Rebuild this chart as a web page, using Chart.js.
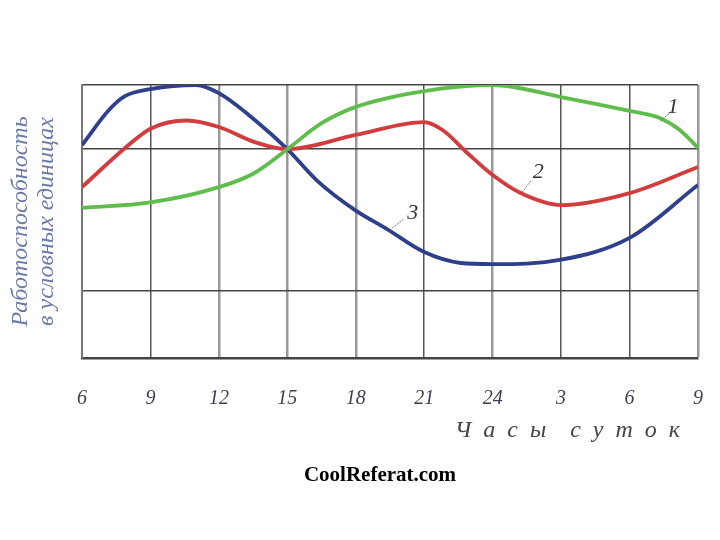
<!DOCTYPE html>
<html>
<head>
<meta charset="utf-8">
<script src="https://cdn.jsdelivr.net/npm/chart.js@4"></script>
<style>
    body { margin: 0; background: #fff; }
    #wrap { position: relative; width: 720px; height: 540px; }
    #footer {
        position: absolute; left: 0; width: 760px; top: 462px;
        text-align: center; font: bold 21px "Liberation Serif", serif; color: #000;
    }
</style>
</head>
<body>
<div id="wrap">
    <canvas id="workChart" width="720" height="540"></canvas>
    <div id="footer">CoolReferat.com</div>
</div>
<script>
// часы суток (6 утра -> 9 утра следующего дня), значения в условных единицах
const hourTicks = [6, 9, 12, 15, 18, 21, 24, 27, 30, 33];
const hourLabels = ['6', '9', '12', '15', '18', '21', '24', '3', '6', '9'];
const yGridValues = [0, 24.5, 76.5, 100];

const curve1Hours = [6, 9, 12, 13.5, 15, 16.5, 18, 21, 24, 27, 30, 31.3, 32.2, 33];
const curve1Values = [55, 57, 62.6, 67.5, 76.5, 86, 92, 97.8, 100, 95.6, 90.5, 88, 83.5, 77];

const curve2Hours = [6, 7.9, 9, 10.6, 12, 13.6, 15, 18, 21, 21.8, 22.9, 24, 25.2, 27, 30, 33];
const curve2Values = [62.6, 77, 84, 87, 84.6, 79, 76.5, 81.7, 86.4, 83.5, 75, 67, 60.5, 56, 60.4, 70];

const curve3Hours = [6, 7.2, 7.9, 9, 11, 12, 13.6, 15, 16.3, 18, 19.3, 21, 22.6, 24, 27, 30, 33];
const curve3Values = [78, 91, 96, 98.5, 100, 97, 87, 76.5, 65, 54, 47.6, 38.8, 34.8, 34.4, 36, 44, 63.4];

// номера кривых: [текст, x, y, выноска от x, y]
const curveMarks = [
    ['1', 31.9, 92, 31.35, 86.8, 31.8, 90.1],
    ['2', 26.0, 68, 25.3, 60.8, 25.7, 65.2],
    ['3', 20.5, 53, 19.6, 47.6, 20.1, 50.9]
];

const xGridColors = ['#777', '#555', '#999', '#999', '#999', '#555', '#999', '#555', '#555', '#999'];

let workChart;

document.addEventListener('DOMContentLoaded', () => {
    renderWorkChart();
});

function toPoints(hours, values) {
    return hours.map((h, i) => ({ x: h, y: values[i] }));
}

const curveMarksPlugin = {
    id: 'curveMarks',
    afterDatasetsDraw(chart) {
        const { ctx, scales } = chart;
        ctx.save();
        curveMarks.forEach(m => {
            ctx.strokeStyle = '#777';
            ctx.lineWidth = 1;
            ctx.setLineDash([2, 1]);
            ctx.beginPath();
            ctx.moveTo(scales.x.getPixelForValue(m[3]), scales.y.getPixelForValue(m[4]));
            ctx.lineTo(scales.x.getPixelForValue(m[5]), scales.y.getPixelForValue(m[6]));
            ctx.stroke();
            ctx.setLineDash([]);
            ctx.fillStyle = '#333';
            ctx.font = 'italic 22px "Liberation Serif", serif';
            ctx.textAlign = 'center';
            ctx.textBaseline = 'middle';
            ctx.fillText(m[0], scales.x.getPixelForValue(m[1]), scales.y.getPixelForValue(m[2]));
        });
        ctx.restore();
    }
};

function renderWorkChart() {
    const ctx = document.getElementById('workChart').getContext('2d');

    if (workChart) {
        workChart.destroy();
    }

    workChart = new Chart(ctx, {
        type: 'line',
        data: {
            datasets: [
                {
                    label: '1',
                    data: toPoints(curve1Hours, curve1Values),
                    borderColor: '#5fbd4d',
                    borderWidth: 3.8
                },
                {
                    label: '2',
                    data: toPoints(curve2Hours, curve2Values),
                    borderColor: '#d23c3c',
                    borderWidth: 3.8
                },
                {
                    label: '3',
                    data: toPoints(curve3Hours, curve3Values),
                    borderColor: '#2e3f8c',
                    borderWidth: 3.8
                }
            ]
        },
        options: {
            responsive: false,
            animation: false,
            cubicInterpolationMode: 'monotone',
            elements: { point: { radius: 0 } },
            layout: { padding: { top: 85, right: 22, left: 0, bottom: 95 } },
            plugins: {
                legend: { display: false },
                tooltip: { enabled: false }
            },
            scales: {
                x: {
                    type: 'linear',
                    min: 6,
                    max: 33,
                    afterBuildTicks: scale => {
                        scale.ticks = hourTicks.map(v => ({ value: v }));
                    },
                    afterFit: scale => {
                        scale.height = 87;
                        scale.paddingLeft = 0;
                        scale.paddingRight = 0;
                    },
                    ticks: {
                        padding: 29,
                        maxRotation: 0,
                        color: '#3d3d55',
                        font: { family: 'Liberation Serif', style: 'italic', size: 20 },
                        callback: (value, index) => hourLabels[index]
                    },
                    grid: {
                        drawTicks: false,
                        color: c => xGridColors[c.index],
                        lineWidth: c => (xGridColors[c.index] === '#999' ? 2.5 : 1.5)
                    },
                    border: { color: '#444', width: 2.5 },
                    title: {
                        display: true,
                        text: 'Ч\u2002а\u2002с\u2002ы\u2002\u2002с\u2002у\u2002т\u2002о\u2002к\u2002 ',
                        align: 'end',
                        color: '#444',
                        padding: { top: 6, bottom: 0 },
                        font: { family: 'Liberation Serif', style: 'italic', size: 24 }
                    }
                },
                y: {
                    min: 0,
                    max: 100,
                    afterBuildTicks: scale => {
                        scale.ticks = yGridValues.map(v => ({ value: v }));
                    },
                    afterFit: scale => {
                        scale.width = 82;
                    },
                    ticks: { display: false },
                    grid: { drawTicks: false, color: '#444', lineWidth: 1.5 },
                    border: { color: '#777', width: 2 },
                    title: {
                        display: true,
                        text: ['Работоспособность', 'в условных единицах'],
                        color: '#6c7aa8',
                        padding: { top: 7, bottom: 0 },
                        font: { family: 'Liberation Serif', style: 'italic', size: 24, lineHeight: 1.1 }
                    }
                }
            }
        },
        plugins: [curveMarksPlugin]
    });
}
</script>
</body>
</html>
